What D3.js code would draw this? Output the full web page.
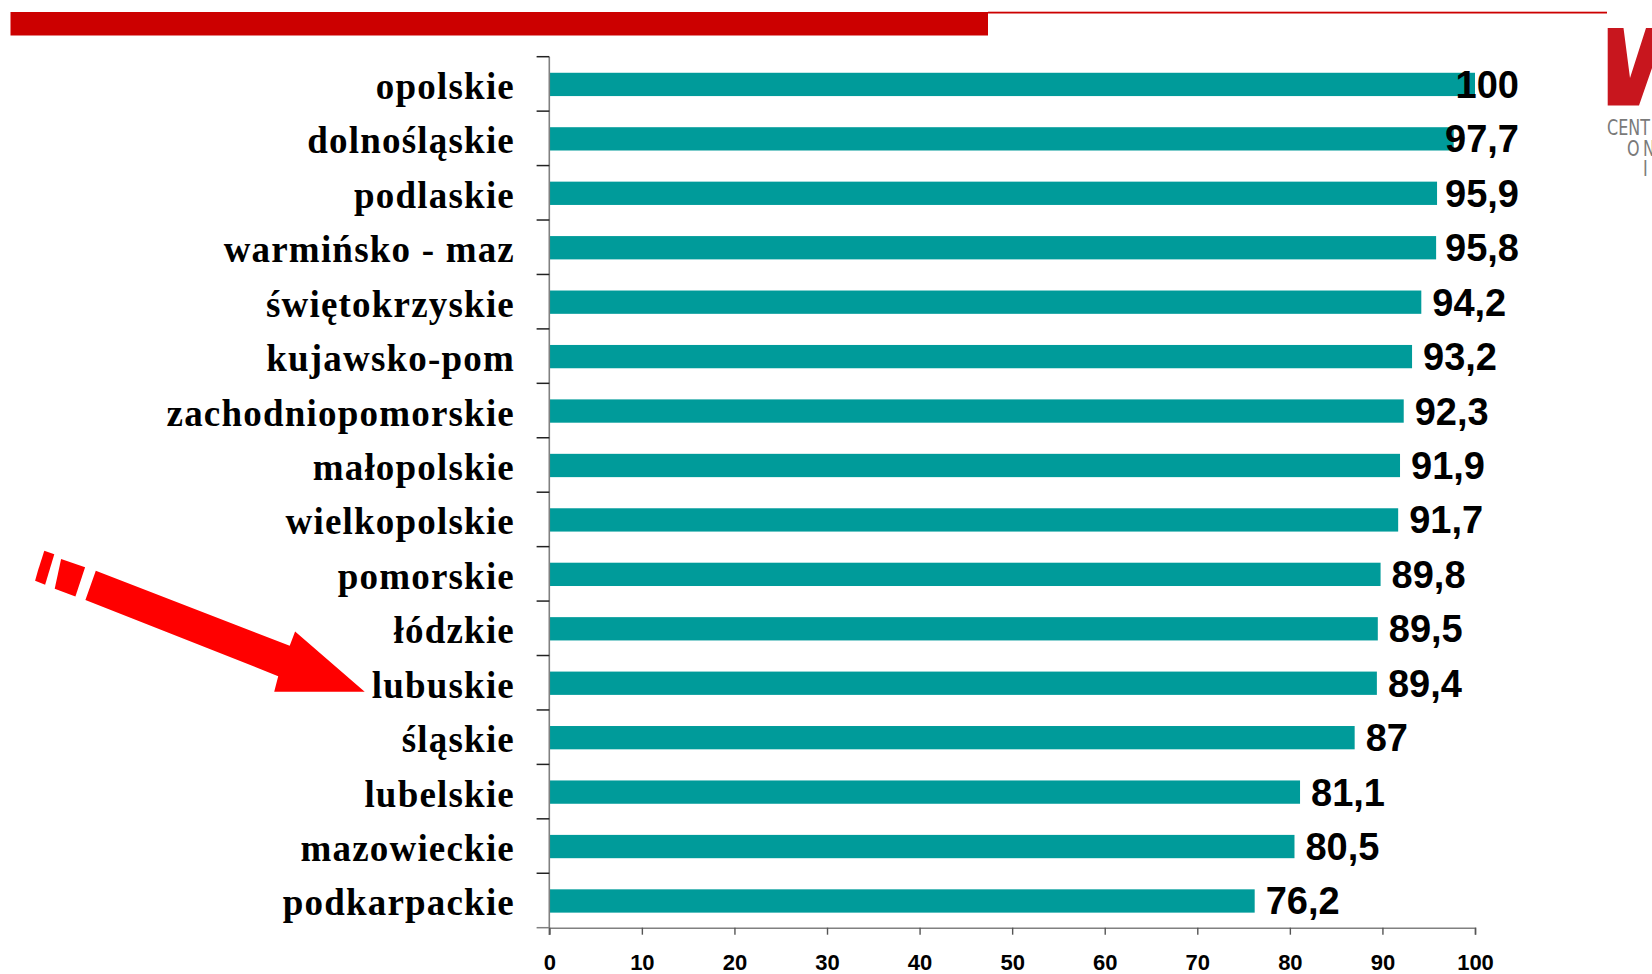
<!DOCTYPE html>
<html><head><meta charset="utf-8">
<script src="https://cdn.jsdelivr.net/npm/d3@7"></script>
<style>body{margin:0;background:#fff;overflow:hidden}</style>
</head><body><svg id="c" width="1652" height="974"></svg>
<script>
const categories = ["opolskie","dolnośląskie","podlaskie","warmińsko - maz","świętokrzyskie","kujawsko-pom","zachodniopomorskie","małopolskie","wielkopolskie","pomorskie","łódzkie","lubuskie","śląskie","lubelskie","mazowieckie","podkarpackie"];
const values = [100,97.7,95.9,95.8,94.2,93.2,92.3,91.9,91.7,89.8,89.5,89.4,87,81.1,80.5,76.2];
const xTicks = [0,10,20,30,40,50,60,70,80,90,100];
const highlighted = "lubuskie";

const svg = d3.select("#c");
const plLocale = d3.formatLocale({decimal: ",", thousands: " ", grouping: [3], currency: ["", " zł"]});
const fmt = v => Number.isInteger(v) ? String(v) : plLocale.format(".1f")(v);

// header bars
svg.append("rect").attr("x",10.5).attr("y",12).attr("width",977.5).attr("height",23.5).attr("fill","#CC0000");
svg.append("rect").attr("x",988).attr("y",11.7).attr("width",619).attr("height",1.8).attr("fill","#CC0000");

// logo
svg.append("polygon")
  .attr("points","1607.7,28 1623.5,28 1630,78 1646,28 1652,28 1652,68 1639,105.5 1607.7,105.5")
  .attr("fill","#C8161E");
const sx = 0.76;
const logoT = svg.append("g").attr("fill","#7a7a7a")
  .attr("transform",`translate(1607,0) scale(${sx},1)`)
  .style("font-family","'DejaVu Sans',sans-serif").style("font-size","21px");
logoT.append("text").attr("x",0).attr("y",135).text("CENT");
logoT.append("text").attr("x",(1627-1607)/sx).attr("y",156).text("O");
logoT.append("text").attr("x",(1643-1607)/sx).attr("y",156).text("N");
logoT.append("text").attr("x",(1643-1607)/sx).attr("y",176).text("I");

const x = d3.scaleLinear().domain([0,100]).range([549.3,1475]);
const y = d3.scaleBand().domain(categories).range([56.7,927.7]).paddingInner(0.572).paddingOuter(0.286);
const step = y.step();

// bars
svg.append("g").selectAll("rect").data(values).join("rect")
  .attr("x", x(0))
  .attr("y", (d,i) => y(categories[i]) + 0.5)
  .attr("width", d => x(d) - x(0))
  .attr("height", y.bandwidth())
  .attr("fill","#009B9A");

// y axis line + ticks at band boundaries
const axisG = svg.append("g");
axisG.append("line").attr("x1",x(0)).attr("x2",x(0)).attr("y1",56.7).attr("y2",935).attr("stroke","#808080").attr("stroke-width",1.6);
const bounds = d3.range(categories.length + 1).map(i => 56.7 + i*step);
axisG.selectAll("line.yt").data(bounds).join("line").attr("class","yt")
  .attr("x1",x(0)-12.7).attr("x2",x(0)).attr("y1",d=>d).attr("y2",d=>d)
  .attr("stroke", (d,i) => i === categories.length ? "#808080" : "#222").attr("stroke-width",1.5);

// x axis
const xAxis = d3.axisBottom(x).tickValues(xTicks).tickSize(7).tickPadding(0).tickFormat(d3.format("d"));
const xg = svg.append("g").attr("transform",`translate(0,${927.7})`).call(xAxis);
xg.select(".domain").attr("stroke","#808080").attr("stroke-width",1.6);
xg.selectAll(".tick line").attr("stroke","#555").attr("stroke-width",1.4);
xg.selectAll(".tick text").attr("y",42).attr("dy",null)
  .style("font-family","'Liberation Sans',Arial,sans-serif").style("font-weight","bold").style("font-size","22px").attr("fill","#000");

// category labels
const catG = svg.append("g");
catG.selectAll("text").data(categories).join("text")
  .attr("x",515).attr("y", d => y(d) + y.bandwidth()/2 + 15)
  .attr("text-anchor","end")
  .attr("letter-spacing","1.2")
  .style("font-family","'Liberation Serif','Times New Roman',serif").style("font-weight","bold").style("font-size","37px")
  .attr("fill","#000").text(d => d);

// value labels
const valG = svg.append("g");
const vt = valG.selectAll("text").data(values).join("text")
  .attr("y",(d,i) => y(categories[i]) + 0.5 + y.bandwidth()/2 + 13.5)
  .style("font-family","'Liberation Sans',Arial,sans-serif").style("font-weight","bold").style("font-size","38px")
  .attr("fill","#000").text(d => fmt(d));
vt.each(function(d){
  const w = this.getComputedTextLength();
  d3.select(this).attr("x", Math.min(x(d) + 11, 1519 - w));
});

// arrow pointing at highlighted category
const hIdx = categories.indexOf(highlighted);
const hNode = catG.selectAll("text").nodes()[hIdx];
const hb = hNode.getBBox();
const tipX = hb.x - 7, tipY = y(highlighted) + y.bandwidth()/2 + 9;
const shapes = [
  [[0,0],[-90.5,0],[-86.5,-15.6],[-279.3,-91.7],[-268.9,-121],[-75,-46],[-69.6,-60.3]],
  [[-303.6,-132.8],[-279.6,-124.6],[-289.3,-95.3],[-310,-103.1]],
  [[-320.4,-141],[-310.4,-137.4],[-319.6,-107],[-329.6,-111],[-326.8,-121]]
];
svg.append("g").selectAll("polygon").data(shapes).join("polygon")
  .attr("points", s => s.map(p => (tipX+p[0])+","+(tipY+p[1])).join(" "))
  .attr("fill","#FF0000");
</script></body></html>
